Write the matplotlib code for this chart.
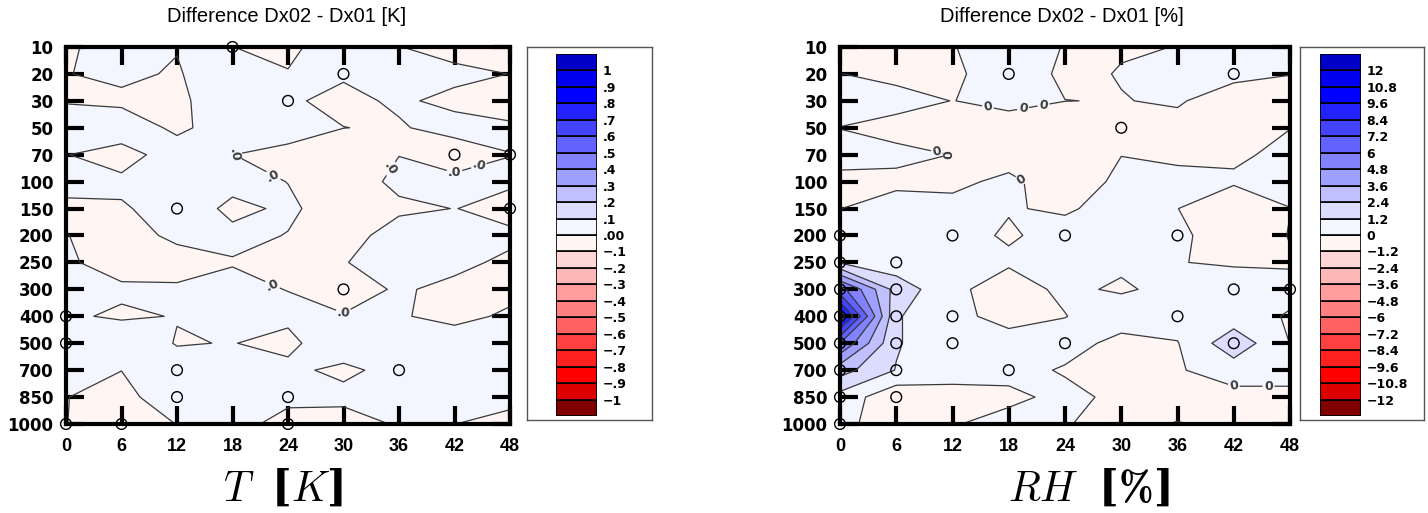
import matplotlib
matplotlib.use('Agg')
import matplotlib.pyplot as plt
import numpy as np

# ---------------------------------------------------------------------------
# data
# ---------------------------------------------------------------------------
LEAD = [0, 6, 12, 18, 24, 30, 36, 42, 48]
PLEV = ['10', '20', '30', '50', '70', '100', '150', '200', '250',
        '300', '400', '500', '700', '850', '1000']

# temperature difference [K], rows = pressure levels (top -> bottom)
DIFF_T = [
    [-0.010, 0.030, 0.005, 0.001, -0.030, 0.080, 0.002, -0.030, -0.030],
    [-0.003, 0.020, -0.010, 0.080, 0.007, 0.009, 0.040, 0.020, -0.001],
    [-0.005, -0.020, -0.020, 0.060, 0.010, -0.020, 0.012, -0.020, -0.030],
    [0.040, 0.060, -0.020, 0.050, 0.045, 0.001, -0.008, 0.030, 0.010],
    [0.003, -0.041, 0.050, 0.001, -0.030, -0.060, -0.002, -0.050, -0.001],
    [0.030, 0.020, 0.050, 0.020, -0.001, -0.070, 0.030, 0.025, 0.012],
    [-0.020, -0.010, 0.040, -0.015, 0.010, -0.030, -0.025, 0.002, -0.030],
    [0.002, -0.030, 0.015, 0.015, -0.002, -0.060, 0.064, 0.050, 0.016],
    [0.010, -0.030, -0.030, -0.004, -0.030, -0.005, 0.050, 0.017, -0.014],
    [0.030, 0.012, 0.010, 0.020, -0.002, -0.030, 0.008, -0.017, -0.030],
    [0.010, -0.010, 0.003, 0.040, 0.023, 0.004, 0.009, -0.030, 0.017],
    [0.040, 0.060, -0.005, 0.003, -0.030, 0.090, 0.050, 0.060, 0.040],
    [0.030, 0.001, 0.040, 0.050, 0.029, -0.031, 0.050, 0.040, 0.030],
    [0.002, -0.030, 0.060, 0.050, 0.030, 0.040, 0.050, 0.040, 0.030],
    [0.001, -0.030, 0.001, 0.045, -0.045, -0.071, 0.016, 0.001, -0.034],
]

# relative humidity difference [%]
DIFF_RH = [
    [-0.6, -0.6, -0.05, 0.6, -0.05, -0.06, 0.01, 0.5, 0.5],
    [0.02, -0.3, -0.2, 0.6, -0.19, 0.04, 0.5, 0.25, 0.02],
    [0.5, 0.4, -0.02, 0.3, 0.01, -0.03, 0.1, -0.5, -0.4],
    [-0.02, -0.4, -0.5, -0.5, -0.6, -0.6, -0.3, -0.4, -0.02],
    [0.4, 0.3, -0.02, -0.6, -0.6, -0.02, -0.2, -0.2, 0.3],
    [-0.3, -0.3, -0.3, 0.3, -0.8, 0.3, 0.3, 0.18, 0.4],
    [-0.02, 0.6, 0.4, 0.05, -0.1, 0.3, 0.02, -1.1, -0.02],
    [0.02, 0.4, 0.3, -0.1, 0.3, 0.5, 0.3, -0.8, 0.05],
    [1.1, 0.5, 0.4, 0.16, 0.4, 0.25, 0.05, -0.2, -0.1],
    [6.5, 1.9, 0.3, -0.64, 0.3, -0.2, 0.47, 1.0, 0.3],
    [10.5, 1.3, 0.4, -0.5, -0.05, 1.0, 0.5, 0.5, -0.1],
    [6.0, 1.3, 0.4, 0.6, 0.8, -0.6, -0.05, 2.0, -0.02],
    [2.9, 1.15, 0.5, 0.7, -0.2, -0.6, -0.1, 0.55, 0.4],
    [0.75, -0.9, -0.45, -0.5, 0.57, -0.5, -0.4, -0.37, -0.27],
    [0.3, -0.6, -0.16, 0.8, 0.05, -0.3, 0.05, -0.3, -0.3],
]

# significance circles (lead, level)
SIG_T_LEAD = [18, 30, 24, 42, 48, 12, 48, 30, 0, 0, 12, 36, 12, 24, 0, 6, 24]
SIG_T_LEV = ['10', '20', '30', '70', '70', '150', '150', '300', '400', '500',
             '700', '700', '850', '850', '1000', '1000', '1000']
SIG_RH_LEAD = [18, 42, 30, 0, 12, 24, 36, 0, 6, 0, 6, 42, 48, 0, 6, 12, 36,
               0, 6, 12, 24, 42, 0, 6, 18, 0, 6, 0]
SIG_RH_LEV = ['20', '20', '50', '200', '200', '200', '200', '250', '250',
              '300', '300', '300', '300', '400', '400', '400', '400',
              '500', '500', '500', '500', '500', '700', '700', '700',
              '850', '850', '1000']

T_LEVELS = [-1.0, -0.9, -0.8, -0.7, -0.6, -0.5, -0.4, -0.3, -0.2, -0.1, 0.0,
            0.1, 0.2, 0.3, 0.4, 0.5, 0.6, 0.7, 0.8, 0.9, 1.0]
T_CB_LABELS = ['\u22121', '\u2212.9', '\u2212.8', '\u2212.7', '\u2212.6',
               '\u2212.5', '\u2212.4', '\u2212.3', '\u2212.2', '\u2212.1', '.00',
               '.1', '.2', '.3', '.4', '.5', '.6', '.7', '.8', '.9', '1']
RH_LEVELS = [-12.0, -10.8, -9.6, -8.4, -7.2, -6.0, -4.8, -3.6, -2.4, -1.2, 0.0,
             1.2, 2.4, 3.6, 4.8, 6.0, 7.2, 8.4, 9.6, 10.8, 12.0]
RH_CB_LABELS = ['\u221212', '\u221210.8', '\u22129.6', '\u22128.4', '\u22127.2',
                '\u22126', '\u22124.8', '\u22123.6', '\u22122.4', '\u22121.2', '0',
                '1.2', '2.4', '3.6', '4.8', '6', '7.2', '8.4', '9.6', '10.8', '12']

# low -> high
COLORS = ['#800000', '#dd0000', '#ff0000', '#ff2020', '#ff4040', '#ff6262',
          '#ff8080', '#ff9c9c', '#ffb8b8', '#ffd6d6', '#fff5f3', '#f3f5ff',
          '#dcdcff', '#c0c0ff', '#a0a0ff', '#8282ff', '#6262ff', '#4444ff',
          '#2222ff', '#0000ff', '#0000ee', '#0000c8']

W, H = 1428, 513
# computer-modern look for the big axis names, heavy brackets via \mathsf
plt.rcParams['mathtext.fontset'] = 'custom'
plt.rcParams['mathtext.rm'] = 'cmr10'
plt.rcParams['mathtext.it'] = 'cmmi10'
plt.rcParams['mathtext.bf'] = 'cmb10'
plt.rcParams['mathtext.sf'] = 'DejaVu Serif:bold'


def px_rect(x0, y0, x1, y1):
    return [x0 / W, (H - y1) / H, (x1 - x0) / W, (y1 - y0) / H]


def draw_panel(fig, rect, z, levels, sig_lead, sig_lev, lab_pos, lab_fmt):
    ax = fig.add_axes(rect)
    yy = np.arange(len(PLEV))
    zz = np.array(z)
    ax.contourf(LEAD, yy, zz, levels=levels, colors=COLORS, extend='both')
    nonzero = [v for v in levels if v != 0.0]
    ax.contour(LEAD, yy, zz, levels=nonzero, colors='#3a3a3a', linewidths=0.9)
    cs0 = ax.contour(LEAD, yy, zz, levels=[0.0], colors='#3a3a3a',
                     linewidths=0.9)
    if lab_pos:
        txt = ax.clabel(cs0, manual=lab_pos, fmt={0.0: lab_fmt},
                        fontsize=9, inline=True, inline_spacing=2)
        for t in txt:
            t.set_fontweight('bold')
    sy = [PLEV.index(v) for v in sig_lev]
    ax.scatter(sig_lead, sy, s=60, facecolors='none', edgecolors='black',
               linewidths=1.0, clip_on=False, zorder=6)

    ax.set_xlim(0, 48)
    ax.set_ylim(len(PLEV) - 1, 0)
    ax.set_xticks(LEAD)
    ax.set_xticklabels([str(v) for v in LEAD], fontsize=13,
                       fontweight='bold', family='Liberation Sans')
    ax.set_yticks(yy)
    ax.set_yticklabels(PLEV, fontsize=12, fontweight='bold',
                       family='DejaVu Sans')
    ax.tick_params(direction='in', length=13, width=3, top=True, right=True,
                   labeltop=False, labelright=False)
    ax.tick_params(axis='x', pad=10)
    ax.tick_params(axis='y', pad=9)
    for sp in ax.spines.values():
        sp.set_linewidth(3)
    return ax


def draw_colorbar(fig, frame_rect, bar_rect, labels):
    frame = fig.add_axes(frame_rect)
    frame.set_xticks([])
    frame.set_yticks([])
    for sp in frame.spines.values():
        sp.set_linewidth(1)
        sp.set_color('#555555')

    cax = fig.add_axes(bar_rect)
    n = len(COLORS)
    cax.bar(np.zeros(n), np.ones(n), bottom=np.arange(n), width=1,
            align='edge', color=COLORS, edgecolor='black', linewidth=1.2)
    cax.set_xlim(0, 1)
    cax.set_ylim(0, n)
    cax.set_xticks([])
    cax.set_yticks(np.arange(1, n))
    cax.set_yticklabels(labels, fontsize=9, fontweight='bold',
                        family='DejaVu Sans')
    cax.yaxis.tick_right()
    cax.tick_params(axis='y', length=0, pad=4)
    for sp in cax.spines.values():
        sp.set_visible(False)


fig = plt.figure(figsize=(W / 100, H / 100), dpi=100)

t_lab = [(17.4, 3.92), (22.4, 4.79), (35.2, 4.54), (42.0, 4.73), (44.6, 4.36),
         (22.4, 8.77), (30.0, 9.9)]
rh_lab = [(15.8, 2.2), (19.5, 2.25), (21.7, 2.14), (10.4, 3.77), (11.9, 3.9),
          (19.2, 4.98), (42.0, 12.6), (45.7, 12.6)]

draw_panel(fig, px_rect(66, 47, 510, 424), DIFF_T, T_LEVELS,
           SIG_T_LEAD, SIG_T_LEV, t_lab, '.0')
draw_panel(fig, px_rect(840, 47, 1290, 424), DIFF_RH, RH_LEVELS,
           SIG_RH_LEAD, SIG_RH_LEV, rh_lab, '0')

draw_colorbar(fig, px_rect(527, 47, 652, 420), px_rect(556, 54, 597, 416),
              T_CB_LABELS)
draw_colorbar(fig, px_rect(1300, 47, 1424, 420), px_rect(1320, 54, 1361, 416),
              RH_CB_LABELS)

fig.text(287 / W, 1 - 17 / H, 'Difference Dx02 - Dx01 [K]', ha='center',
         va='center', fontsize=14.5, family='Liberation Sans')
fig.text(1062 / W, 1 - 17 / H, 'Difference Dx02 - Dx01 [%]', ha='center',
         va='center', fontsize=14.5, family='Liberation Sans')

fig.text(283 / W, 1 - 489 / H, r'$T\ \ \mathsf{[}K\mathsf{]}$', ha='center',
         va='center', fontsize=30)
fig.text(1089 / W, 1 - 489 / H, r'$RH\ \ \mathsf{[}\mathbf{\%}\mathsf{]}$',
         ha='center', va='center', fontsize=30)

fig.savefig('out.png', dpi=100)
plt.close(fig)
